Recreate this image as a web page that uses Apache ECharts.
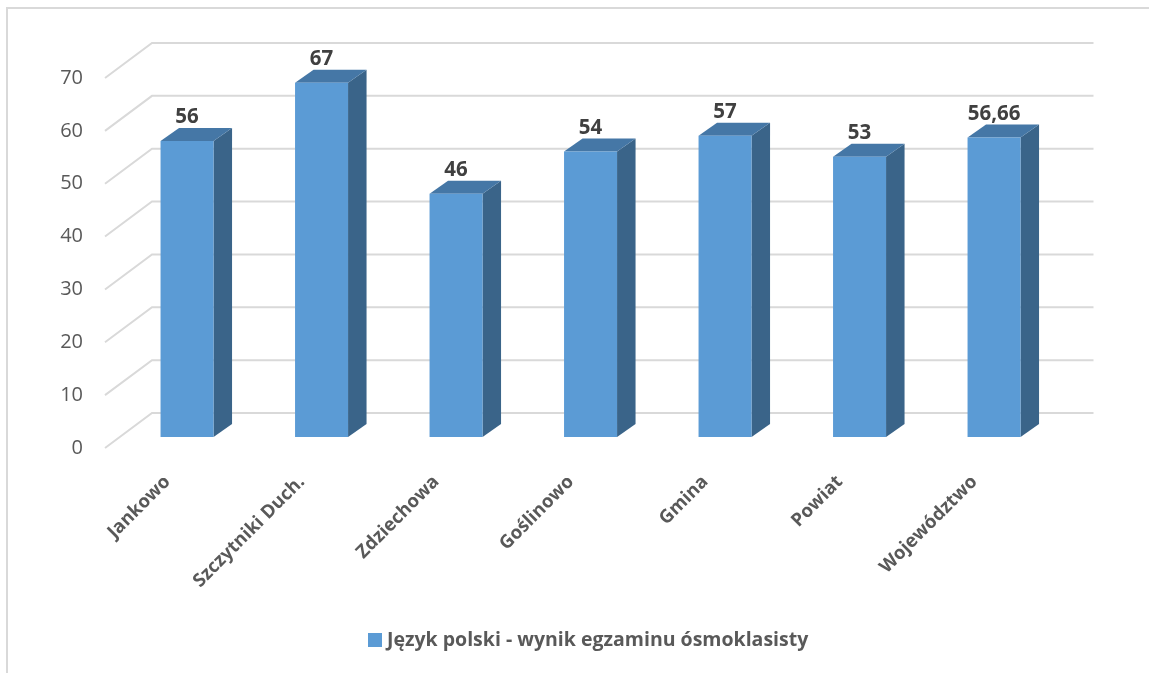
<!DOCTYPE html>
<html>
<head>
<meta charset="utf-8">
<script src="https://cdn.jsdelivr.net/npm/echarts@6/dist/echarts.min.js"></script>
<style>
  html, body { margin: 0; padding: 0; background: #fff; }
  #chart { width: 1149px; height: 673px; }
</style>
</head>
<body>
<div id="chart"></div>
<script>
const categories = ['Jankowo', 'Szczytniki Duch.', 'Zdziechowa', 'Goślinowo', 'Gmina', 'Powiat', 'Województwo']
const scores = [56, 67, 46, 54, 57, 53, 56.66]
const yTicks = [0, 10, 20, 30, 40, 50, 60, 70]
const seriesName = 'Język polski - wynik egzaminu ósmoklasisty'

// 3d look: back wall offset and bar depth
const wallDx = 47, wallDy = -35
const barDx = 14.8, barDy = -11
const depthDx = 18.5, depthDy = -13
const barW = 53

const chart = echarts.init(document.getElementById('chart'))

function fmt(v) {
  return String(v).replace('.', ',')
}

const option = {
  animation: false,
  textStyle: { fontFamily: 'Open Sans' },
  grid: { left: 105, width: 941.5, top: 78, bottom: 225 },
  legend: {
    bottom: 18,
    left: 363,
    itemWidth: 14,
    itemHeight: 14,
    itemGap: 5,
    icon: 'rect',
    textStyle: { color: '#595959', fontSize: 19.5, fontWeight: 'bold', fontFamily: 'Open Sans' },
    data: [seriesName]
  },
  graphic: [{
    type: 'rect',
    shape: { x: 7, y: 8, width: 1200, height: 700 },
    style: { fill: 'none', stroke: '#D9D9D9', lineWidth: 2 },
    silent: true
  }],
  xAxis: {
    type: 'category',
    data: categories,
    axisLine: { show: false },
    axisTick: { show: false },
    axisLabel: {
      rotate: 45,
      interval: 0,
      margin: 26,
      padding: [0, 7, 0, 0],
      color: '#595959',
      fontSize: 18.5,
      fontWeight: 'bold',
      fontFamily: 'Open Sans'
    }
  },
  yAxis: {
    type: 'value',
    min: 0,
    max: 70,
    interval: 10,
    splitLine: { show: false },
    axisLine: { show: false },
    axisTick: { show: false },
    axisLabel: { margin: 22, color: '#595959', fontSize: 20, fontFamily: 'Open Sans' }
  },
  series: [
    {
      type: 'custom',
      silent: true,
      z: 1,
      data: yTicks.map(v => [0, v]),
      renderItem: function (params, api) {
        const cs = params.coordSys
        const y = api.coord([0, api.value(1)])[1]
        const x0 = cs.x
        const x1 = cs.x + cs.width
        return {
          type: 'polyline',
          shape: { points: [[x0, y], [x0 + wallDx, y + wallDy], [x1 + wallDx, y + wallDy]] },
          style: { stroke: '#D9D9D9', lineWidth: 2, fill: 'none' }
        }
      }
    },
    {
      name: seriesName,
      type: 'custom',
      z: 2,
      itemStyle: { color: '#5B9BD5' },
      data: scores.map((v, i) => [i, v]),
      renderItem: function (params, api) {
        const i = api.value(0)
        const v = api.value(1)
        const top = api.coord([i, v])
        const base = api.coord([i, 0])
        const cx = top[0] + barDx
        const x0 = cx - barW / 2
        const x1 = cx + barW / 2
        const yt = top[1] + barDy
        const yb = base[1] + barDy
        return {
          type: 'group',
          children: [
            {
              type: 'polygon',
              shape: { points: [[x1, yt], [x1 + depthDx, yt + depthDy], [x1 + depthDx, yb + depthDy], [x1, yb]] },
              style: { fill: '#3A6489' }
            },
            {
              type: 'polygon',
              shape: { points: [[x0, yt], [x0 + depthDx, yt + depthDy], [x1 + depthDx, yt + depthDy], [x1, yt]] },
              style: { fill: '#4577A6' }
            },
            {
              type: 'rect',
              shape: { x: x0, y: yt, width: barW, height: yb - yt },
              style: { fill: '#5B9BD5' }
            },
            {
              type: 'text',
              x: cx,
              y: yt + depthDy,
              style: {
                text: fmt(v),
                align: 'center',
                verticalAlign: 'bottom',
                fill: '#404040',
                fontSize: 20.5,
                fontWeight: 'bold',
                fontFamily: 'Open Sans'
              }
            }
          ]
        }
      }
    }
  ]
}

chart.setOption(option)
</script>
</body>
</html>
